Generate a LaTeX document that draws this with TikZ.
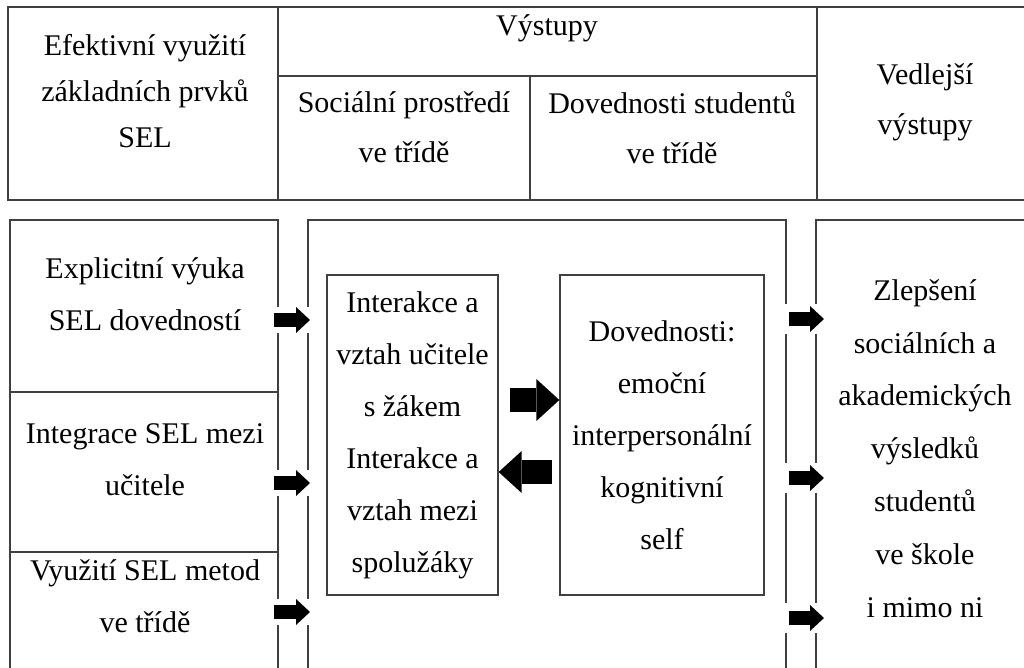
\documentclass[tikz,border=0pt]{standalone}
\usepackage{fontspec}
\setmainfont{Liberation Serif}
\usetikzlibrary{arrows.meta}
\begin{document}
\begin{tikzpicture}[x=1pt,y=-1pt,
  frame/.style={line width=1.3pt, draw=black!75},
  lbl/.style={align=center, inner sep=0pt, font=\fontsize{30}{52}\selectfont},
  lblh/.style={align=center, inner sep=0pt, font=\fontsize{30}{50}\selectfont},
  lblk/.style={align=center, inner sep=0pt, font=\fontsize{30}{46}\selectfont},
  sidearrow/.style={line width=14pt, -{Triangle[length=14pt,width=26pt,line width=0pt]}, draw=black},
  bigarrow/.style={line width=24pt, -{Triangle[length=23pt,width=42pt,line width=0pt]}, draw=black},
  gapfill/.style={fill=white},
  innerbox/.style={draw=black!75, line width=1.3pt, minimum height=320pt, inner sep=0pt,
    align=center, font=\fontsize{30}{52}\selectfont}
]
\useasboundingbox (0,0) rectangle (1024,668);
\clip (0,0) rectangle (1024,668);
\fill[white] (0,0) rectangle (1024,668);

% ---------- header table ----------
\draw[frame] (8,7) rectangle (1040,200);
\draw[frame] (278,7) -- (278,200);
\draw[frame] (817,7) -- (817,200);
\draw[frame] (278,76) -- (817,76);
\draw[frame] (530,76) -- (530,200);

\node[lblk] (h1) at (145,91) {Efektivní využití\\základních prvků\\SEL};
\node[lblh] (h2) at (547,28) {Výstupy};
\node[lblh] (h3) at (404,127) {Sociální prostředí\\ve třídě};
\node[lblh] (h4) at (672,128) {Dovednosti studentů\\ve třídě};
\node[lblh] (h5) at (925,102) {Vedlejší\\výstupy};

% ---------- lower frames ----------
\draw[frame] (10,700) -- (10,220) -- (278,220) -- (278,700);
\draw[frame] (10,392) -- (278,392);
\draw[frame] (10,552) -- (278,552);
\draw[frame] (308,700) -- (308,220) -- (786,220) -- (786,700);
\draw[frame] (816,700) -- (816,220) -- (1040,220);

\node[lbl] (l1) at (145,294) {Explicitní výuka\\SEL dovedností};
\node[lbl] (l2) at (145,460) {Integrace SEL mezi\\učitele};
\node[lbl] (l3) at (145,596) {Využití SEL metod\\ve třídě};

\node[innerbox, minimum width=171pt] (rel) at (412.5,435)
  {Interakce a\\vztah učitele\\s žákem\\Interakce a\\vztah mezi\\spolužáky};
\node[innerbox, minimum width=204pt] (skills) at (662,435)
  {Dovednosti:\\emoční\\interpersonální\\kognitivní\\self};

\node[align=center, inner sep=0pt, font=\fontsize{30}{52.8}\selectfont] (res) at (925,448.5)
  {Zlepšení\\sociálních a\\akademických\\výsledků\\studentů\\ve škole\\i mimo ni};

% ---------- side arrows (with gaps in the frame lines) ----------
\foreach \n/\yy in {1/320,2/483,3/612}{
  \fill[gapfill] (272,\yy-13) rectangle (312,\yy+13);
  \coordinate (la\n s) at (274,\yy);
  \coordinate (la\n e) at (310,\yy);
  \draw[sidearrow] (la\n s) -- (la\n e);
}
\foreach \n/\yy in {1/319,2/478,3/618}{
  \fill[gapfill] (782,\yy-15) rectangle (820,\yy+15);
  \coordinate (ra\n s) at (789,\yy);
  \coordinate (ra\n e) at (824,\yy);
  \draw[sidearrow] (ra\n s) -- (ra\n e);
}

% ---------- middle arrows ----------
\coordinate (m1) at (510,400);
\draw[bigarrow] (m1) -- (skills.west |- m1);
\coordinate (m2) at (552,472);
\draw[bigarrow] (m2) -- (rel.east |- m2);
\end{tikzpicture}
\end{document}
